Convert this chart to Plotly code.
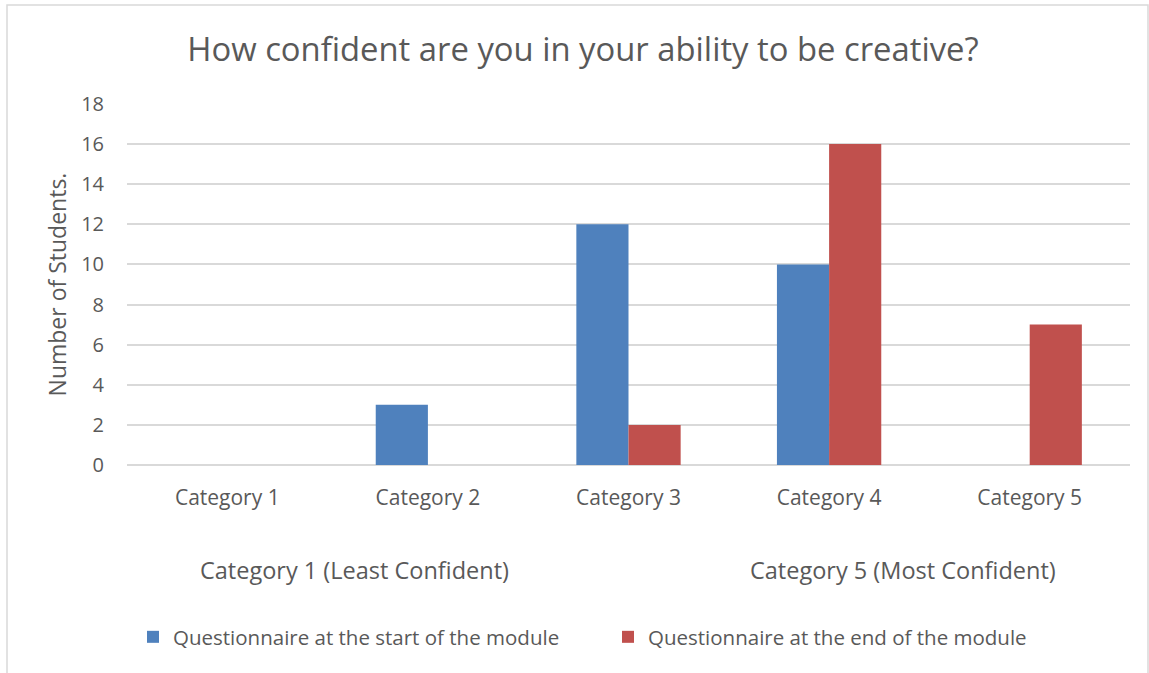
import plotly.graph_objects as go

# Survey responses by confidence category
categories = ["Category 1", "Category 2", "Category 3", "Category 4", "Category 5"]
start_counts = [0, 3, 12, 10, 0]
end_counts = [0, 0, 2, 16, 7]
series_names = ["Questionnaire at the start of the module",
                "Questionnaire at the end of the module"]
y_ticks = [0, 2, 4, 6, 8, 10, 12, 14, 16, 18]

BLUE = "#4F81BD"
RED = "#C0504D"
TEXT = "#595959"
GRID = "#D9D9D9"
FONT = "Open Sans"

W, H = 1149, 673
L, R, T, B = 127, 19, 104, 208
pw, ph = W - L - R, H - T - B


def px_x(x):
    return (x - L) / pw


def px_y(y):
    return (H - B - y) / ph


fig = go.Figure()
fig.add_trace(go.Bar(x=categories, y=start_counts, name=series_names[0],
                     marker=dict(color=BLUE, line=dict(width=0))))
fig.add_trace(go.Bar(x=categories, y=end_counts, name=series_names[1],
                     marker=dict(color=RED, line=dict(width=0))))

fig.update_layout(
    width=W, height=H,
    margin=dict(l=L, r=R, t=T, b=B),
    paper_bgcolor="white", plot_bgcolor="white",
    barmode="group", bargap=0.48, bargroupgap=0,
    font=dict(family=FONT, color=TEXT, size=20),
    title=dict(text="How confident are you in your ability to be creative?",
               x=px_x(583), xref="paper", xanchor="center",
               y=1 - 50 / H, yanchor="middle",
               font=dict(size=32.8, color=TEXT, family=FONT)),
    xaxis=dict(showgrid=False, showline=False, ticks="",
               tickfont=dict(size=21, color=TEXT), ticklabelstandoff=18),
    yaxis=dict(range=[0, 18], tickvals=y_ticks, showgrid=True,
               gridcolor=GRID, gridwidth=1.5, zeroline=True,
               zerolinecolor=GRID, zerolinewidth=1.5, showline=False,
               ticks="", tickfont=dict(size=20, color=TEXT),
               ticklabelstandoff=22,
               title=dict(text="Number of Students.", standoff=8,
                          font=dict(size=23, color=TEXT))),
    legend=dict(orientation="h", x=px_x(133), xanchor="left",
                y=px_y(637), yanchor="middle",
                font=dict(size=20.5, color=TEXT), itemwidth=30,
                entrywidth=430, entrywidthmode="pixels",
                traceorder="normal"),
    showlegend=True,
)

fig.add_annotation(text="Category 1 (Least Confident)", xref="paper", yref="paper",
                   x=px_x(354), y=px_y(570), xanchor="center", yanchor="middle",
                   showarrow=False, font=dict(size=23.5, color=TEXT))
fig.add_annotation(text="Category 5 (Most Confident)", xref="paper", yref="paper",
                   x=px_x(903), y=px_y(570), xanchor="center", yanchor="middle",
                   showarrow=False, font=dict(size=23.5, color=TEXT))

# Chart frame
fig.add_shape(type="rect", xref="paper", yref="paper",
              x0=px_x(7), x1=px_x(1148), y0=px_y(680), y1=px_y(5),
              line=dict(color=GRID, width=1.5), fillcolor="rgba(0,0,0,0)",
              layer="below")

fig.write_html("out.html")
